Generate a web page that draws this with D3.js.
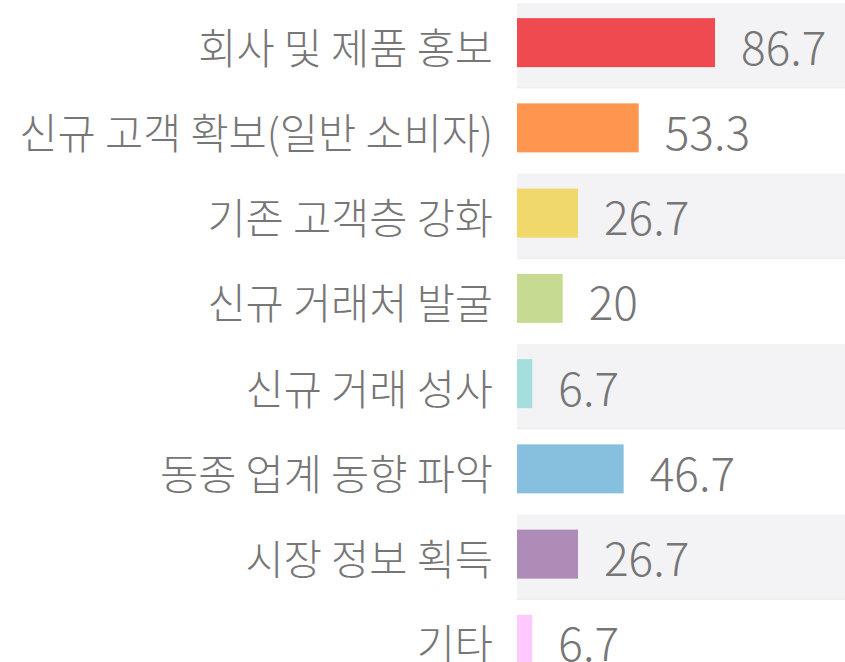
<!DOCTYPE html>
<html>
<head>
<meta charset="utf-8">
<script src="https://cdn.jsdelivr.net/npm/d3@7"></script>
<style>
    html, body { margin: 0; padding: 0; background: #fff; overflow: hidden; }
    text { font-family: "Noto Sans CJK KR", "Noto Sans", sans-serif; fill: #767676; font-weight: 300; }
</style>
</head>
<body>
<div id="chart"></div>
<script>
const categories = ["회사 및 제품 홍보", "신규 고객 확보(일반 소비자)", "기존 고객층 강화", "신규 거래처 발굴",
    "신규 거래 성사", "동종 업계 동향 파악", "시장 정보 획득", "기타"];
const values = [86.7, 53.3, 26.7, 20, 6.7, 46.7, 26.7, 6.7];
const colors = ["#ef4a4f", "#fe964f", "#f0d86a", "#c6db91", "#a4dedd", "#87c0df", "#af8bb7", "#ffc8fe"];

const dimensions = {
    width: 845,
    height: 662,
    plotLeft: 517,
    rowStep: 85.25
};

const svg = d3.select("#chart")
    .append("svg")
    .attr("width", dimensions.width)
    .attr("height", dimensions.height);

const yScale = d3.scaleBand()
    .domain(categories)
    .range([0, dimensions.rowStep * categories.length])
    .paddingInner(0.425)
    .paddingOuter(0.2125);

const xScale = d3.scaleLinear()
    .domain([0, 100])
    .range([0, 228.4]);

const step = yScale.step();
const rowTop = d => yScale(d) - (step - yScale.bandwidth()) / 2 + 3;

// grey stripes on every other row
const stripes = categories.filter((d, i) => i % 2 === 0);

svg.selectAll(".stripe")
    .data(stripes)
    .enter()
    .append("rect")
    .attr("class", "stripe")
    .attr("x", dimensions.plotLeft)
    .attr("y", rowTop)
    .attr("width", dimensions.width - dimensions.plotLeft)
    .attr("height", step)
    .attr("fill", "#f3f3f5");

svg.selectAll(".stripeEdge")
    .data(stripes)
    .enter()
    .append("rect")
    .attr("class", "stripeEdge")
    .attr("x", dimensions.plotLeft)
    .attr("y", d => rowTop(d) + step - 1)
    .attr("width", dimensions.width - dimensions.plotLeft)
    .attr("height", 1)
    .attr("fill", "#ebebed");

svg.selectAll(".bar")
    .data(categories)
    .enter()
    .append("rect")
    .attr("class", "bar")
    .attr("x", dimensions.plotLeft)
    .attr("y", d => yScale(d))
    .attr("width", (d, i) => xScale(values[i]))
    .attr("height", yScale.bandwidth())
    .attr("fill", (d, i) => colors[i]);

svg.selectAll(".label")
    .data(categories)
    .enter()
    .append("text")
    .attr("class", "label")
    .attr("x", dimensions.plotLeft - 24)
    .attr("y", d => yScale(d) + yScale.bandwidth() / 2 + 3)
    .attr("dominant-baseline", "central")
    .attr("text-anchor", "end")
    .style("font-size", "41.5px")
    .text(d => d);

svg.selectAll(".value")
    .data(categories)
    .enter()
    .append("text")
    .attr("class", "value")
    .attr("x", (d, i) => dimensions.plotLeft + xScale(values[i]) + 26)
    .attr("y", d => yScale(d) + yScale.bandwidth() / 2 + 2)
    .attr("dominant-baseline", "central")
    .style("font-size", "46px")
    .text((d, i) => values[i]);
</script>
</body>
</html>
